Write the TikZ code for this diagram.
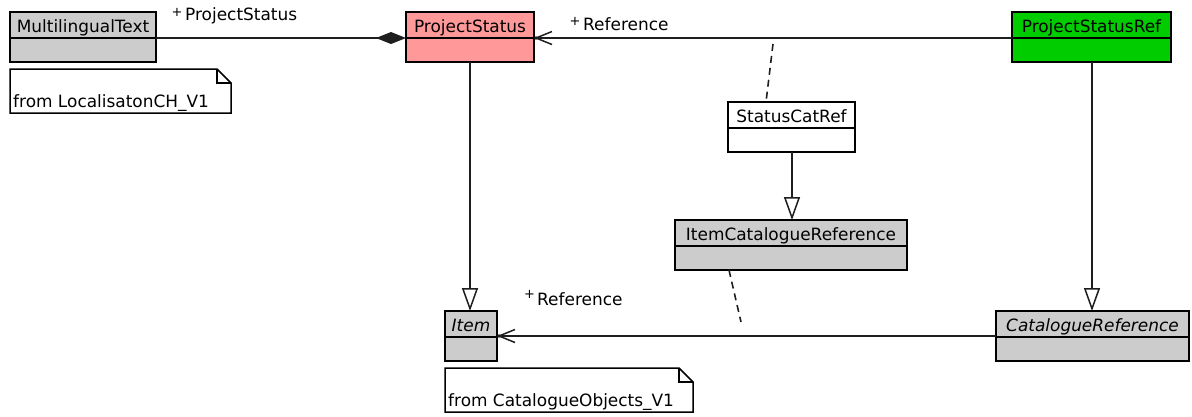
\documentclass[tikz,border=0pt]{standalone}
\usepackage{fontspec}
\setmainfont{DejaVu Sans}
\usetikzlibrary{arrows.meta}
\definecolor{umlgray}{RGB}{204,204,204}
\definecolor{umlpink}{RGB}{255,153,153}
\definecolor{umlgreen}{RGB}{0,204,0}
\definecolor{umlline}{RGB}{30,30,30}

% class box: name compartment (26bp) over an empty attribute compartment
\newcommand\umlclass[6]{%
  \node[classbox, fill=#5, minimum width=#4bp] (#1) at (#2,#3) {};
  \draw[classline] ([yshift=-26bp]#1.north west) -- ([yshift=-26bp]#1.north east);
  \node[classname] (#1-name) at ([yshift=-20bp]#1.north) {#6};
}
% note with a folded top-right corner
\newcommand\umlnote[5]{%
  \node[notebox, minimum width=#4bp] (#1) at (#2,#3) {};
  \draw[classline, fill=white] (#1.north west) -- ([xshift=-14bp]#1.north east)
    -- ([yshift=-14bp]#1.north east) -- (#1.south east) -- (#1.south west) -- cycle;
  \draw[classline] ([xshift=-14bp]#1.north east) |- ([yshift=-14bp]#1.north east);
  \node[notetext] (#1-text) at ([xshift=3bp,yshift=6bp]#1.south west) {#5};
}

\begin{document}
\begin{tikzpicture}[x=1bp,y=-1bp,
  classbox/.style={draw=black, line width=1.5bp, anchor=north west, inner sep=0pt,
    outer sep=0pt, minimum height=50bp},
  classline/.style={draw=black, line width=1.5bp},
  classname/.style={anchor=base, inner sep=0pt, font=\fontsize{17}{20}\selectfont},
  notebox/.style={anchor=north west, inner sep=0pt, outer sep=0pt, minimum height=44bp},
  notetext/.style={anchor=base west, inner sep=0pt, font=\fontsize{17}{20}\selectfont},
  rolename/.style={anchor=base west, inner sep=0pt, font=\fontsize{17}{20}\selectfont},
  roleplus/.style={inner sep=0pt, font=\fontsize{13}{14}\selectfont},
  conn/.style={draw=umlline, line width=1.5bp},
  general/.style={conn, -{Triangle[open, length=23bp, width=16bp, fill=white, line width=1.5bp]}},
  navig/.style={conn, -{Straight Barb[length=16bp, width=13bp, line width=1.5bp]}},
  compos/.style={conn, -{Diamond[length=30bp, width=12bp]}},
  assocdash/.style={draw=umlline, line width=1.6bp, dash pattern=on 7bp off 5bp},
  tipdot/.style={fill=umlline, draw=none},
]
\useasboundingbox (0,0) rectangle (1192,416);

% classes
\umlclass{mt}{10}{12}{146}{umlgray}{MultilingualText}
\umlclass{ps}{406}{12}{128}{umlpink}{ProjectStatus}
\umlclass{psr}{1012}{12}{159}{umlgreen}{ProjectStatusRef}
\umlclass{scr}{728}{102}{127}{white}{StatusCatRef}
\umlclass{icr}{675}{220}{232}{umlgray}{ItemCatalogueReference}
\umlclass{item}{445}{311}{52}{umlgray}{\itshape Item}
\umlclass{cr}{996}{311}{193}{umlgray}{\itshape CatalogueReference}

% notes
\umlnote{n1}{10}{69}{221}{from LocalisatonCH\_V1}
\umlnote{n2}{445}{368}{248}{from CatalogueObjects\_V1}

% composition MultilingualText -> ProjectStatus
\draw[compos] ([yshift=-26bp]mt.north east) -- ([yshift=-26bp]ps.north west);
\node[roleplus] (l1p) at (177,12.5) {+};
\node[rolename] (l1) at (185,20) {ProjectStatus};

% navigable association ProjectStatusRef -> ProjectStatus
\draw[navig] ([yshift=-26bp]psr.north west) -- ([yshift=-26bp]ps.north east);
\fill[tipdot] ([yshift=-26bp,xshift=2bp]ps.north east) circle (1.8bp);
\node[roleplus] (l2p) at (575,21.5) {+};
\node[rolename] (l2) at (583,30) {Reference};

% association class link
\coordinate (ac1) at (773,44);
\draw[assocdash] (ac1) -- ([xshift=-25.5bp]scr.north);

% generalizations
\draw[general] (ps.south) -- (ps.south |- item.north);
\draw[general] ([xshift=0.5bp]scr.south) -- ([xshift=0.5bp]scr.south |- icr.north);
\draw[general] ([xshift=0.5bp]psr.south) -- ([xshift=0.5bp]psr.south |- cr.north);

% navigable association CatalogueReference -> Item
\draw[navig] ([yshift=-25bp]cr.north west) -- ([yshift=-25bp]item.north east);
\fill[tipdot] ([yshift=-25bp,xshift=2bp]item.north east) circle (1.8bp);
\node[roleplus] (l3p) at (529.5,294.5) {+};
\node[rolename] (l3) at (537,305) {Reference};

% association class link
\coordinate (ac2) at (741,322);
\draw[assocdash] ([xshift=-62bp]icr.south) -- (ac2);
\end{tikzpicture}
\end{document}
